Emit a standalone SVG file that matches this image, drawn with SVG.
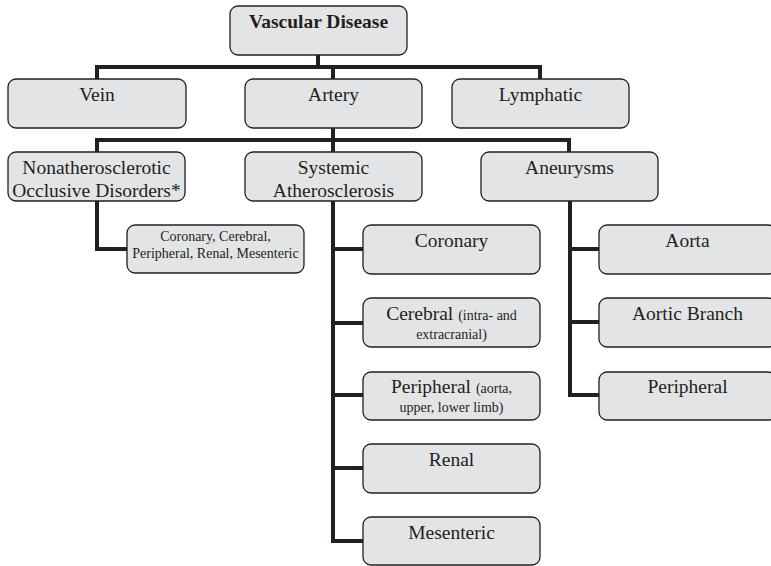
<svg xmlns="http://www.w3.org/2000/svg" width="771" height="566" viewBox="0 0 771 566">
<style>
.box{fill:#e3e4e5;stroke:#231f20;stroke-width:1.3}
.t{font-family:"Liberation Serif","Times New Roman",serif;font-size:19.5px;fill:#231f20;text-anchor:middle}
.s{font-size:14px}
.b{font-weight:bold}
.c{fill:none;stroke:#231f20;stroke-width:4;stroke-linejoin:miter;stroke-linecap:butt}
</style>
<rect width="771" height="566" fill="#fff"/>
<g id="connectors">
<path class="c" d="M318 55V67M97 80V67H540V80M333 67V80"/>
<path class="c" d="M333 128V152M97 153V140H569V153"/>
<path class="c" d="M97 201V249H128"/>
<path class="c" d="M333 201V541H364M333 249H364M333 323H364M333 395H364M333 468H364"/>
<path class="c" d="M570 201V395H600M570 249H600M570 322H600"/>
</g>
<g id="n-vascular"><rect class="box" x="230" y="6" width="177" height="49" rx="8"/><text class="t b" x="318.5" y="28">Vascular Disease</text></g>
<g id="n-vein"><rect class="box" x="8" y="79" width="178" height="49" rx="8"/><text class="t" x="97" y="101">Vein</text></g>
<g id="n-artery"><rect class="box" x="245" y="79" width="177" height="49" rx="8"/><text class="t" x="333.5" y="101">Artery</text></g>
<g id="n-lymphatic"><rect class="box" x="452" y="79" width="177" height="49" rx="8"/><text class="t" x="540.5" y="101">Lymphatic</text></g>
<g id="n-nonath"><rect class="box" x="8" y="152" width="177" height="49" rx="8"/><text class="t" x="96.5" y="174">Nonatherosclerotic</text><text class="t" x="96.5" y="197">Occlusive Disorders*</text></g>
<g id="n-systemic"><rect class="box" x="245" y="152" width="177" height="49" rx="8"/><text class="t" x="333.5" y="174">Systemic</text><text class="t" x="333.5" y="197">Atherosclerosis</text></g>
<g id="n-aneurysms"><rect class="box" x="481" y="152" width="177" height="49" rx="8"/><text class="t" x="569.5" y="174">Aneurysms</text></g>
<g id="n-nonath-list"><rect class="box" x="127" y="225" width="177" height="48" rx="8"/><text class="t s" x="215.5" y="241">Coronary, Cerebral,</text><text class="t s" x="215.5" y="258">Peripheral, Renal, Mesenteric</text></g>
<g id="n-coronary"><rect class="box" x="363" y="225" width="177" height="49" rx="8"/><text class="t" x="451.5" y="247">Coronary</text></g>
<g id="n-cerebral"><rect class="box" x="363" y="298" width="177" height="49" rx="8"/><text class="t" x="451.5" y="320">Cerebral <tspan class="s">(intra- and</tspan></text><text class="t s" x="451.5" y="339">extracranial)</text></g>
<g id="n-peripheral"><rect class="box" x="363" y="372" width="177" height="48" rx="8"/><text class="t" x="451.5" y="393">Peripheral <tspan class="s">(aorta,</tspan></text><text class="t s" x="451.5" y="412">upper, lower limb)</text></g>
<g id="n-renal"><rect class="box" x="363" y="444" width="177" height="49" rx="8"/><text class="t" x="451.5" y="466">Renal</text></g>
<g id="n-mesenteric"><rect class="box" x="363" y="517" width="177" height="48" rx="8"/><text class="t" x="451.5" y="539">Mesenteric</text></g>
<g id="n-aorta"><rect class="box" x="599" y="225" width="177" height="49" rx="8"/><text class="t" x="687.5" y="247">Aorta</text></g>
<g id="n-aortic-branch"><rect class="box" x="599" y="298" width="177" height="49" rx="8"/><text class="t" x="687.5" y="320">Aortic Branch</text></g>
<g id="n-an-peripheral"><rect class="box" x="599" y="372" width="177" height="48" rx="8"/><text class="t" x="687.5" y="393">Peripheral</text></g>
</svg>
